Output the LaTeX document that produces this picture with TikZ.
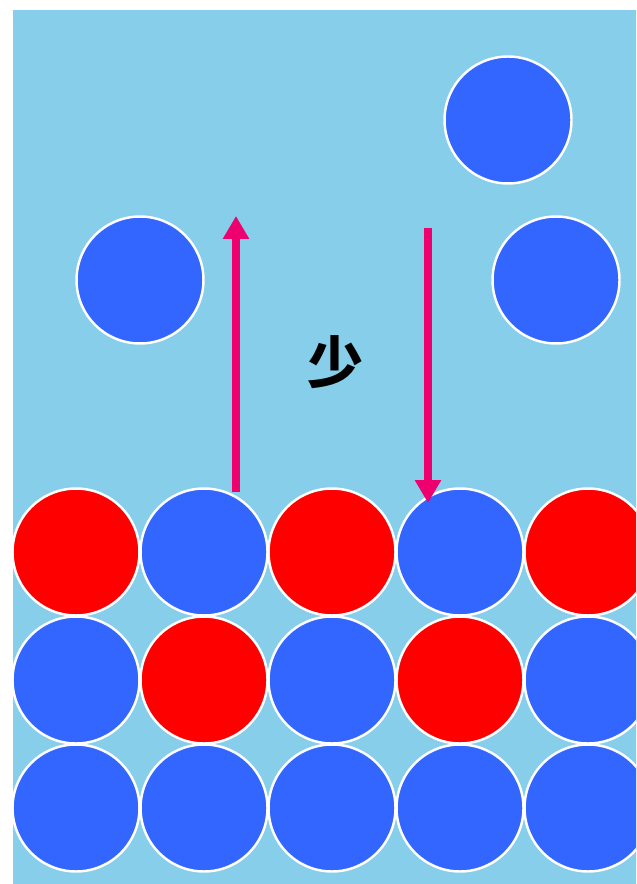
\documentclass[tikz,border=0pt]{standalone}
\usepackage{fontspec}
\newfontfamily\cjk{Noto Sans CJK SC}
\usetikzlibrary{arrows.meta}
\definecolor{water}{RGB}{135,206,235}
\definecolor{ballblue}{RGB}{51,102,255}
\definecolor{ballred}{RGB}{255,0,0}
\definecolor{flow}{RGB}{238,0,110}
\tikzset{
  ball/.style={circle,draw=white,line width=1.4pt,minimum size=2.54cm,inner sep=0pt},
  blueball/.style={ball,fill=ballblue},
  redball/.style={ball,fill=ballred},
  flowarrow/.style={flow,line width=4pt,-{Triangle[width=0.5cm,length=0.46cm]}}
}
\begin{document}
\begin{tikzpicture}[x=0.02cm,y=-0.02cm]
\useasboundingbox (0,0) rectangle (636,884);
\clip (0,0) rectangle (636,884);
\fill[water] (13,10) rectangle (640,884);
% free particles
\node[blueball] (free1) at (508,120) {};
\node[blueball] (free2) at (140,280) {};
\node[blueball] (free3) at (556,280) {};
% top row of the solid
\node[redball] (r1c1) at (76,552) {};
\node[blueball] (r1c2) at (204,552) {};
\node[redball] (r1c3) at (332,552) {};
\node[blueball] (r1c4) at (460,552) {};
\node[redball] (r1c5) at (588,552) {};
% middle row
\node[blueball] (r2c1) at (76,680) {};
\node[redball] (r2c2) at (204,680) {};
\node[blueball] (r2c3) at (332,680) {};
\node[redball] (r2c4) at (460,680) {};
\node[blueball] (r2c5) at (588,680) {};
% bottom row
\node[blueball] (r3c1) at (76,808) {};
\node[blueball] (r3c2) at (204,808) {};
\node[blueball] (r3c3) at (332,808) {};
\node[blueball] (r3c4) at (460,808) {};
\node[blueball] (r3c5) at (588,808) {};
% dissolving and returning
\coordinate (outstart) at (236,492);
\coordinate (outend) at (236,216);
\coordinate (instart) at (428,228);
\coordinate (inend) at (428,503);
\draw[flowarrow] (outstart) -- (outend);
\draw[flowarrow] (instart) -- (inend);
\node[font=\cjk\bfseries\fontsize{32}{32}\selectfont] (few) at (336,362) {少};
\end{tikzpicture}
\end{document}
